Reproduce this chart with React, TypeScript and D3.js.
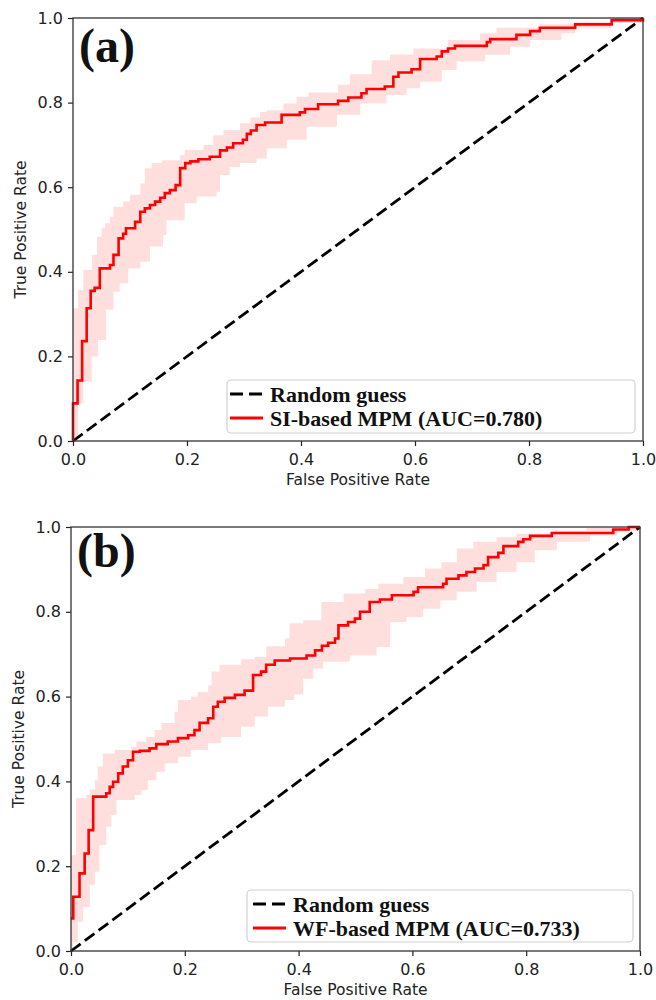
import React, { useEffect, useRef } from "react";
import * as d3 from "d3";

// (fpr, tpr) step vertices

// panel (a) SI-based MPM
const siMean: [number, number][] = [
  [0, 0], [0, 0.089], [0.008, 0.143], [0.016, 0.236], [0.024, 0.314], [0.031, 0.355], [0.038, 0.362],
  [0.047, 0.408], [0.065, 0.416], [0.071, 0.44], [0.08, 0.479], [0.088, 0.49], [0.093, 0.503],
  [0.109, 0.518], [0.118, 0.542], [0.126, 0.55], [0.135, 0.558], [0.144, 0.566], [0.153, 0.575],
  [0.161, 0.586], [0.17, 0.593], [0.18, 0.605], [0.188, 0.645], [0.197, 0.657], [0.206, 0.661],
  [0.22, 0.666], [0.24, 0.672], [0.258, 0.687], [0.27, 0.694], [0.281, 0.704], [0.298, 0.712],
  [0.305, 0.726], [0.312, 0.734], [0.322, 0.747], [0.337, 0.753], [0.366, 0.771], [0.398, 0.777],
  [0.407, 0.785], [0.43, 0.796], [0.465, 0.804], [0.483, 0.812], [0.506, 0.822], [0.515, 0.832],
  [0.547, 0.838], [0.562, 0.861], [0.571, 0.871], [0.594, 0.879], [0.609, 0.903], [0.638, 0.909],
  [0.647, 0.921], [0.658, 0.928], [0.67, 0.934], [0.726, 0.943], [0.732, 0.95], [0.778, 0.96],
  [0.802, 0.969], [0.819, 0.977], [0.881, 0.985], [0.945, 0.995], [1, 1],
];
const siUpper: [number, number][] = [
  [0, 0.314], [0.009, 0.357], [0.018, 0.404], [0.033, 0.44], [0.042, 0.483], [0.05, 0.503],
  [0.056, 0.515], [0.065, 0.53], [0.071, 0.554], [0.088, 0.566], [0.1, 0.582], [0.118, 0.609],
  [0.126, 0.645], [0.138, 0.657], [0.156, 0.664], [0.188, 0.676], [0.196, 0.688], [0.229, 0.7],
  [0.246, 0.723], [0.264, 0.735], [0.293, 0.751], [0.311, 0.765], [0.328, 0.778], [0.34, 0.782],
  [0.369, 0.798], [0.392, 0.814], [0.413, 0.824], [0.465, 0.842], [0.486, 0.867], [0.524, 0.9],
  [0.556, 0.914], [0.597, 0.928], [0.658, 0.948], [0.714, 0.964], [0.743, 0.977], [0.819, 0.985],
  [0.881, 0.991], [0.947, 1], [1, 1],
];
const siLower: [number, number][] = [
  [0, 0], [0.009, 0.089], [0.018, 0.14], [0.033, 0.2], [0.044, 0.239], [0.058, 0.31], [0.071, 0.353],
  [0.082, 0.373], [0.097, 0.408], [0.118, 0.424], [0.135, 0.46], [0.158, 0.487], [0.164, 0.522],
  [0.196, 0.562], [0.217, 0.578], [0.252, 0.589], [0.258, 0.629], [0.275, 0.648], [0.293, 0.657],
  [0.322, 0.668], [0.34, 0.692], [0.375, 0.712], [0.41, 0.743], [0.463, 0.771], [0.504, 0.798],
  [0.55, 0.818], [0.585, 0.834], [0.609, 0.849], [0.647, 0.877], [0.673, 0.897], [0.723, 0.913],
  [0.767, 0.932], [0.802, 0.948], [0.857, 0.964], [0.881, 0.976], [0.945, 0.988], [1, 1],
];

// panel (b) WF-based MPM
const wfMean: [number, number][] = [
  [0, 0.077], [0.004, 0.128], [0.015, 0.183], [0.024, 0.23], [0.031, 0.285], [0.039, 0.364],
  [0.062, 0.372], [0.068, 0.387], [0.074, 0.399], [0.083, 0.419], [0.091, 0.435], [0.1, 0.45],
  [0.109, 0.47], [0.121, 0.472], [0.138, 0.478], [0.15, 0.488], [0.17, 0.494], [0.188, 0.502],
  [0.206, 0.509], [0.217, 0.521], [0.226, 0.538], [0.241, 0.549], [0.25, 0.576], [0.258, 0.588],
  [0.27, 0.597], [0.288, 0.604], [0.305, 0.614], [0.32, 0.651], [0.334, 0.659], [0.343, 0.675],
  [0.358, 0.685], [0.385, 0.69], [0.414, 0.697], [0.429, 0.709], [0.441, 0.72], [0.452, 0.727],
  [0.464, 0.737], [0.47, 0.768], [0.487, 0.776], [0.499, 0.784], [0.508, 0.8], [0.525, 0.823],
  [0.543, 0.829], [0.564, 0.839], [0.602, 0.847], [0.61, 0.858], [0.654, 0.866], [0.66, 0.878],
  [0.681, 0.886], [0.695, 0.894], [0.71, 0.902], [0.725, 0.91], [0.733, 0.929], [0.751, 0.939],
  [0.76, 0.955], [0.786, 0.965], [0.795, 0.971], [0.807, 0.979], [0.845, 0.986], [0.953, 0.994],
  [0.98, 1], [1, 1],
];
const wfUpper: [number, number][] = [
  [0, 0.226], [0.009, 0.36], [0.027, 0.368], [0.033, 0.381], [0.042, 0.403], [0.047, 0.435],
  [0.056, 0.466], [0.077, 0.474], [0.106, 0.482], [0.115, 0.494], [0.132, 0.505], [0.147, 0.521],
  [0.159, 0.538], [0.182, 0.564], [0.188, 0.592], [0.211, 0.6], [0.223, 0.611], [0.241, 0.627],
  [0.247, 0.659], [0.261, 0.675], [0.299, 0.688], [0.323, 0.694], [0.343, 0.719], [0.376, 0.737],
  [0.384, 0.773], [0.408, 0.78], [0.44, 0.823], [0.479, 0.843], [0.517, 0.854], [0.54, 0.866],
  [0.584, 0.882], [0.622, 0.902], [0.651, 0.917], [0.678, 0.949], [0.707, 0.965], [0.748, 0.976],
  [0.783, 0.984], [0.848, 0.992], [0.906, 0.998], [0.95, 1], [1, 1],
];
const wfLower: [number, number][] = [
  [0, 0], [0.004, 0.022], [0.012, 0.069], [0.021, 0.104], [0.033, 0.156], [0.042, 0.187], [0.05, 0.25],
  [0.062, 0.293], [0.071, 0.321], [0.08, 0.356], [0.112, 0.368], [0.124, 0.38], [0.135, 0.403],
  [0.15, 0.423], [0.165, 0.443], [0.188, 0.458], [0.211, 0.474], [0.241, 0.49], [0.264, 0.505],
  [0.299, 0.529], [0.323, 0.553], [0.346, 0.576], [0.376, 0.592], [0.392, 0.605], [0.408, 0.642],
  [0.426, 0.666], [0.443, 0.682], [0.49, 0.697], [0.537, 0.717], [0.561, 0.776], [0.59, 0.788],
  [0.619, 0.807], [0.649, 0.827], [0.678, 0.847], [0.713, 0.87], [0.748, 0.894], [0.783, 0.917],
  [0.815, 0.945], [0.854, 0.965], [0.912, 0.98], [0.959, 0.992], [1, 1],
];

const ticks = [0, 0.2, 0.4, 0.6, 0.8, 1.0];
const guessLabel = "Random guess";

const panels = [
  {
    label: "(a)", name: "SI-based MPM (AUC=0.780)", mean: siMean, upper: siUpper, lower: siLower,
    frame: { left: 73, top: 18, right: 643, bottom: 441 },
    legend: { x0: 227, x1: 635, y0: 380, y1: 433, handle: 230, text: 270 },
    labelY: 62,
  },
  {
    label: "(b)", name: "WF-based MPM (AUC=0.733)", mean: wfMean, upper: wfUpper, lower: wfLower,
    frame: { left: 71, top: 527, right: 640, bottom: 951 },
    legend: { x0: 247, x1: 633, y0: 890, y1: 942, handle: 253, text: 293 },
    labelY: 567,
  },
];

const SANS = "'DejaVu Sans', sans-serif";
const SERIF = "'Liberation Serif', 'Times New Roman', serif";
const DASH = "12 5.2";

// value of a step function (held until next vertex)
const stepAt = (pts: [number, number][], x: number) => {
  const i = d3.bisectRight(pts.map((p) => p[0]), x) - 1;
  return pts[Math.max(0, i)][1];
};

const App = () => {
  const ref = useRef<SVGSVGElement>(null);

  useEffect(() => {
    const svg = d3.select(ref.current);
    svg.selectAll("*").remove();

    panels.forEach((p) => {
      const { left, top, right, bottom } = p.frame;
      const x = d3.scaleLinear().domain([0, 1]).range([left, right]);
      const y = d3.scaleLinear().domain([0, 1]).range([bottom, top]);
      const g = svg.append("g");

      // confidence band
      const xs = Array.from(new Set([...p.upper, ...p.lower].map((d) => d[0]))).sort((a, b) => a - b);
      const band = xs.map((v) => ({ x: v, lo: stepAt(p.lower, v), hi: stepAt(p.upper, v) }));
      const area = d3.area<{ x: number; lo: number; hi: number }>()
        .x((d) => x(d.x))
        .y0((d) => y(d.lo))
        .y1((d) => y(d.hi))
        .curve(d3.curveStepAfter);
      g.append("path").datum(band).attr("d", area).attr("fill", "#ff0000").attr("fill-opacity", 0.13);

      // random guess diagonal
      g.append("line")
        .attr("x1", x(0)).attr("y1", y(0)).attr("x2", x(1)).attr("y2", y(1))
        .attr("stroke", "#000").attr("stroke-width", 2.8).attr("stroke-dasharray", DASH);

      // mean ROC
      const line = d3.line<[number, number]>()
        .x((d) => x(d[0]))
        .y((d) => y(d[1]))
        .curve(d3.curveStepAfter);
      g.append("path").datum(p.mean).attr("d", line)
        .attr("fill", "none").attr("stroke", "#ff0000").attr("stroke-width", 2.6);

      // axes
      const xAxis = g.append("g").attr("transform", `translate(0,${bottom})`)
        .call(d3.axisBottom(x).tickValues(ticks).tickSize(5).tickPadding(8).tickFormat(d3.format(".1f")));
      const yAxis = g.append("g").attr("transform", `translate(${left},0)`)
        .call(d3.axisLeft(y).tickValues(ticks).tickSize(5).tickPadding(5).tickFormat(d3.format(".1f")));
      [xAxis, yAxis].forEach((a) => {
        a.select(".domain").remove();
        a.selectAll("line").attr("stroke", "#222").attr("stroke-width", 1.2);
        a.selectAll("text").attr("font-family", SANS).attr("font-size", 16).attr("fill", "#222");
      });

      g.append("rect")
        .attr("x", left).attr("y", top).attr("width", right - left).attr("height", bottom - top)
        .attr("fill", "none").attr("stroke", "#333").attr("stroke-width", 1.3);

      g.append("text")
        .attr("x", (left + right) / 2).attr("y", bottom + 44)
        .attr("text-anchor", "middle").attr("font-family", SANS).attr("font-size", 15.5).attr("fill", "#222")
        .text("False Positive Rate");
      g.append("text")
        .attr("transform", `translate(${left - 52},${(top + bottom) / 2}) rotate(-90)`)
        .attr("dy", "0.35em")
        .attr("text-anchor", "middle").attr("font-family", SANS).attr("font-size", 15.5).attr("fill", "#222")
        .text("True Positive Rate");

      // panel label
      g.append("text")
        .attr("x", left + 6).attr("y", p.labelY)
        .attr("font-family", SERIF).attr("font-weight", "bold").attr("font-size", 48).attr("fill", "#111")
        .text(p.label);

      // legend
      const L = p.legend;
      g.append("rect")
        .attr("x", L.x0).attr("y", L.y0).attr("width", L.x1 - L.x0).attr("height", L.y1 - L.y0)
        .attr("rx", 4).attr("fill", "#fff").attr("fill-opacity", 0.8)
        .attr("stroke", "#d0d0d0").attr("stroke-width", 1.2);
      const rows = [
        { text: guessLabel, color: "#000", dash: "13 6" },
        { text: p.name, color: "#ff0000", dash: null },
      ];
      rows.forEach((r, i) => {
        const base = L.y0 + 22 + i * 24;
        g.append("line")
          .attr("x1", L.handle).attr("x2", L.handle + 33)
          .attr("y1", base - 8).attr("y2", base - 8)
          .attr("stroke", r.color).attr("stroke-width", 2.8)
          .attr("stroke-dasharray", r.dash);
        g.append("text")
          .attr("x", L.text).attr("y", base)
          .attr("font-family", SERIF).attr("font-weight", "bold").attr("font-size", 22).attr("fill", "#111")
          .text(r.text);
      });
    });
  }, []);

  return (
    <svg ref={ref} width={656} height={1000}
      style={{ position: "absolute", left: 0, top: 0, background: "#fff" }} />
  );
};

export default App;
